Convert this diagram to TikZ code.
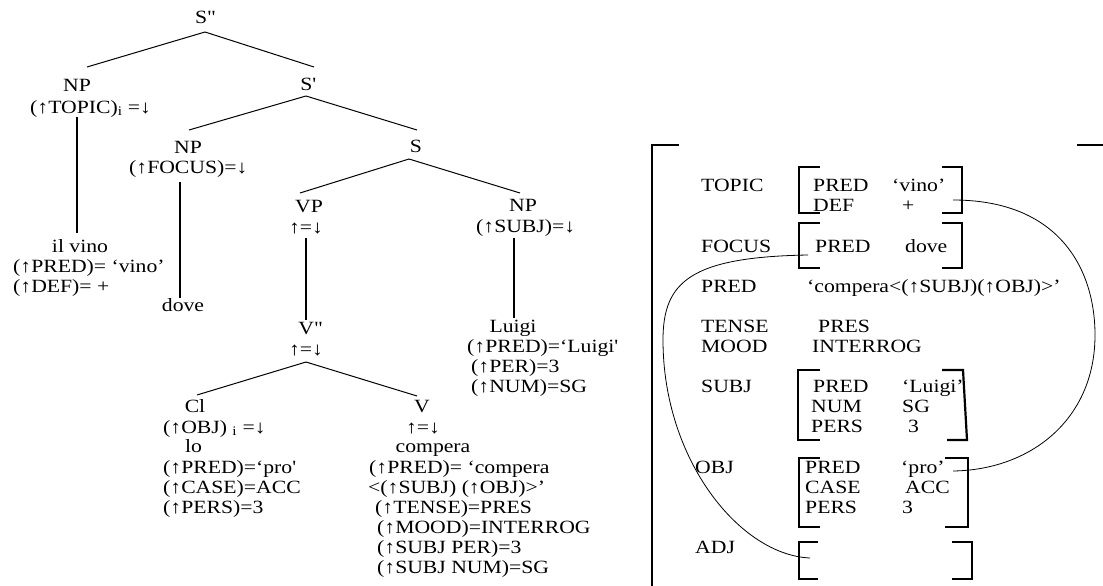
\documentclass[tikz,border=0pt]{standalone}
\usepackage{fontspec}
\setmainfont{Liberation Serif}[FakeStretch=1.16]

\begin{document}
\begin{tikzpicture}[x=1pt,y=-1pt,
  every node/.style={inner sep=0pt,font=\fontsize{18.7}{20}\selectfont},
  cat/.style={anchor=base},
  lbl/.style={anchor=base west},
  branch/.style={line width=1pt},
  unary/.style={line width=1.8pt},
  fbrack/.style={line width=2.2pt},
  link/.style={line width=0.8pt},
]
  \useasboundingbox (0,0) rectangle (1103,586);

  % c-structure
  \node[cat] (spp) at (205,24) {S\textquotedbl};
  \node[cat] (nptop) at (77,92) {NP};
  \node[lbl] (topicann) at (30,113) {(↑TOPIC)\textsubscript{i} =↓};
  \node[cat] (ilvino) at (80,252) {il vino};
  \node[lbl] (vinopred) at (13,272) {(↑PRED)= ‘vino’};
  \node[lbl] (vinodef) at (13,292) {(↑DEF)= +};

  \node[cat] (sp) at (308,91) {S\textquotesingle};
  \node[cat] (npfoc) at (188,153) {NP};
  \node[lbl] (focann) at (129,173) {(↑FOCUS)=↓};
  \node[cat] (dove) at (183,311) {dove};

  \node[cat] (s) at (416,152) {S};
  \node[cat] (vp) at (309,212) {VP};
  \node[cat] (vpann) at (306,233) {↑=↓};
  \node[cat] (vpp) at (310,334) {V\textquotedbl};
  \node[cat] (vppann) at (306,355) {↑=↓};

  \node[cat] (npsubj) at (523,211) {NP};
  \node[lbl] (subjann) at (476,232) {(↑SUBJ)=↓};
  \node[cat] (luigi) at (513,332) {Luigi};
  \node[lbl] (luigipred) at (467,352) {(↑PRED)=‘Luigi\textquotesingle};
  \node[lbl] (luigiper) at (471,372) {(↑PER)=3};
  \node[lbl] (luiginum) at (471,392) {(↑NUM)=SG};

  \node[cat] (cl) at (195,412) {Cl};
  \node[lbl] (clann) at (163,433) {(↑OBJ) \textsubscript{i} =↓};
  \node[lbl] (lo) at (185,452) {lo};
  \node[lbl] (lopred) at (163,473) {(↑PRED)=‘pro\textquotesingle};
  \node[lbl] (locase) at (163,493) {(↑CASE)=ACC};
  \node[lbl] (lopers) at (163,513) {(↑PERS)=3};

  \node[cat] (v) at (422,412) {V};
  \node[cat] (vann) at (423,433) {↑=↓};
  \node[cat] (compera) at (433,452) {compera};
  \node[lbl] (vpred) at (369,473) {(↑PRED)= ‘compera};
  \node[lbl] (vargs) at (368,493) {<(↑SUBJ) (↑OBJ)>’};
  \node[lbl] (vtense) at (375,513) {(↑TENSE)=PRES};
  \node[lbl] (vmood) at (377,533) {(↑MOOD)=INTERROG};
  \node[lbl] (vper) at (377,553) {(↑SUBJ PER)=3};
  \node[lbl] (vnum) at (377,573) {(↑SUBJ NUM)=SG};

  \draw[branch] ([yshift=-8pt]spp.base) -- ([xshift=10pt,yshift=25pt]nptop.base);
  \draw[branch] ([yshift=-8pt]spp.base) -- ([xshift=6pt,yshift=24pt]sp.base);
  \draw[branch] ([xshift=-2pt,yshift=-5pt]sp.base) -- ([xshift=1pt,yshift=23pt]npfoc.base);
  \draw[branch] ([xshift=-2pt,yshift=-5pt]sp.base) -- ([xshift=1pt,yshift=22pt]s.base);
  \draw[branch] ([xshift=-7pt,yshift=-7pt]s.base) -- ([xshift=-9pt,yshift=19pt]vp.base);
  \draw[branch] ([xshift=-7pt,yshift=-7pt]s.base) -- ([xshift=-3pt,yshift=18pt]npsubj.base);
  \draw[branch] ([yshift=-7pt]vppann.base) -- ([xshift=2pt,yshift=17pt]cl.base);
  \draw[branch] ([yshift=-7pt]vppann.base) -- ([xshift=-5pt,yshift=16pt]v.base);

  \draw[unary] (77,117) -- (77,233);
  \draw[unary] (180,182) -- (180,298);
  \draw[unary] (306,238) -- (306,320);
  \draw[unary] (514,238) -- (514,318);

  % f-structure
  \draw[line width=1.6pt] (679,145) -- (652,145) -- (652,586);
  \draw[line width=1.6pt] (1077,145) -- (1103,145);

  \node[lbl] (ftopic) at (701,191) {TOPIC};
  \node[lbl] (ftpred) at (813,191) {PRED};
  \node[lbl] (ftvino) at (892,191) {‘vino’};
  \node[lbl] (ftdef) at (813,211) {DEF};
  \node[lbl] (ftplus) at (902,211) {+};
  \draw[fbrack] (820,167) -- (799,167) -- (799,213) -- (820,213);
  \draw[fbrack] (942,167) -- (962,167) -- (962,213) -- (942,213);

  \node[lbl] (ffocus) at (701,252) {FOCUS};
  \node[lbl] (ffpred) at (815,252) {PRED};
  \node[lbl] (ffdove) at (905,252) {dove};
  \draw[fbrack] (820,223) -- (799,223) -- (799,268) -- (820,268);
  \draw[fbrack] (942,223) -- (962,223) -- (962,268) -- (942,268);

  \node[lbl] (fpred) at (701,292) {PRED};
  \node[lbl] (fpredval) at (807,292) {‘compera<(↑SUBJ)(↑OBJ)>’};
  \node[lbl] (ftense) at (701,332) {TENSE};
  \node[lbl] (ftenseval) at (818,332) {PRES};
  \node[lbl] (fmood) at (701,352) {MOOD};
  \node[lbl] (fmoodval) at (812,352) {INTERROG};

  \node[lbl] (fsubj) at (701,392) {SUBJ};
  \node[lbl] (fspred) at (813,392) {PRED};
  \node[lbl] (fsluigi) at (902,392) {‘Luigi’};
  \node[lbl] (fsnum) at (811,412) {NUM};
  \node[lbl] (fssg) at (902,412) {SG};
  \node[lbl] (fspers) at (811,432) {PERS};
  \node[lbl] (fsthree) at (908,432) {3};
  \draw[fbrack] (820,370) -- (798,370) -- (798,440) -- (820,440);
  \draw[fbrack] (942,370) -- (963,370) -- (967,440) -- (947,440);

  \node[lbl] (fobj) at (695,473) {OBJ};
  \node[lbl] (fopred) at (805,473) {PRED};
  \node[lbl] (fopro) at (901,473) {‘pro’};
  \node[lbl] (focase) at (805,493) {CASE};
  \node[lbl] (foacc) at (905,493) {ACC};
  \node[lbl] (fopers) at (805,513) {PERS};
  \node[lbl] (fothree) at (902,513) {3};
  \draw[fbrack] (820,458) -- (799,458) -- (799,527) -- (820,527);
  \draw[fbrack] (945,458) -- (968,458) -- (968,527) -- (945,527);

  \node[lbl] (fadj) at (695,553) {ADJ};
  \draw[fbrack] (818,542) -- (799,542) -- (799,579) -- (818,579);
  \draw[fbrack] (952,542) -- (972,542) -- (972,579) -- (952,579);

  % binding links
  \coordinate (topicend) at (953,200);
  \coordinate (objend) at (953,471);
  \coordinate (focusend) at (808,255);
  \coordinate (adjend) at (810,558);
  \draw[link] (topicend) .. controls (1060,200) and (1095,270) .. (1095,335) .. controls (1095,420) and (1030,470) .. (objend);
  \draw[link] (focusend) .. controls (690,257) and (663,282) .. (663,340) .. controls (663,460) and (740,555) .. (adjend);
\end{tikzpicture}
\end{document}
